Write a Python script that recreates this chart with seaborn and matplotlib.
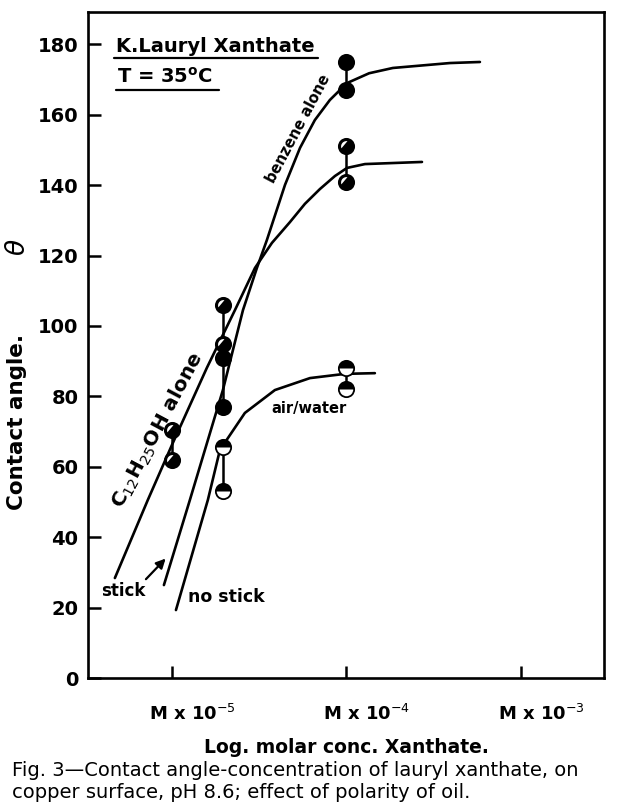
import matplotlib
matplotlib.use("Agg")
import numpy as np
import matplotlib.pyplot as plt
import seaborn as sns
import pandas as pd
from matplotlib.path import Path
from matplotlib.transforms import ScaledTranslation
from matplotlib.lines import Line2D

# ---------------- data (x = log10 molar conc., y = contact angle, deg) -------------
x_tick_pos = [-5, -4, -3]
x_tick_labels = [r"M x 10$^{-5}$", r"M x 10$^{-4}$", r"M x 10$^{-3}$"]
y_tick_pos = [0, 20, 40, 60, 80, 100, 120, 140, 160, 180]

# hand-drawn curves
benzene_x = [-5.046, -4.897, -4.708, -4.593, -4.513, -4.456, -4.352, -4.266, -4.181, -4.095, -3.997, -3.870, -3.734, -3.407, -3.235]
benzene_y = [26.4, 50.6, 81.8, 104.5, 116.5, 124.4, 140.1, 150.6, 158.5, 164.2, 169.0, 171.8, 173.3, 174.7, 175.0]

c12_x = [-5.327, -5.138, -5.000, -4.800, -4.639, -4.524, -4.427, -4.324, -4.238, -4.152, -4.066, -3.997, -3.894, -3.567]
c12_y = [28.4, 50.6, 66.2, 88.1, 104.5, 116.5, 123.6, 129.5, 134.7, 138.9, 142.6, 144.9, 146.0, 146.6]

air_x = [-4.977, -4.794, -4.725, -4.582, -4.410, -4.209, -4.009, -3.837]
air_y = [19.3, 50.6, 64.8, 75.3, 81.8, 85.2, 86.4, 86.6]

# measured points
benzene_pts_x = [-4.71, -4.71, -4.0, -4.0]
benzene_pts_y = [91, 77, 175, 167]
c12_pts_x = [-5.0, -5.0, -4.71, -4.71, -4.0, -4.0]
c12_pts_y = [70.5, 62, 106, 95, 151, 141]
air_pts_x = [-4.71, -4.71, -4.0, -4.0]
air_pts_y = [65.5, 53, 88, 82]

# vertical connectors between duplicate readings
pair_x = [-5.0, -4.71, -4.71, -4.71, -4.0, -4.0, -4.0]
pair_top = [70.5, 106, 91, 65.5, 175, 151, 88]
pair_bot = [62, 95, 77, 53, 167, 141, 82]

# "stick" arrow
stick_arrow_from = (-5.16, 27.5)
stick_arrow_to = (-5.025, 34.5)

# ---------------- figure -----------------
sns.set_style("white")
plt.rcParams["font.family"] = ["DejaVu Sans"]
plt.rcParams["mathtext.fontset"] = "dejavusans"
for k in ["text.color", "axes.labelcolor", "xtick.color", "ytick.color"]:
    plt.rcParams[k] = "black"

fig = plt.figure(figsize=(6.17, 8.11), dpi=100)
ax = fig.add_axes([88 / 617, 1 - 678 / 811, (604 - 88) / 617, (678 - 12) / 811])

lw = 1.9
for xs, ys in [(benzene_x, benzene_y), (c12_x, c12_y), (air_x, air_y)]:
    sns.lineplot(x=xs, y=ys, ax=ax, color="black", lw=lw, estimator=None, sort=False)

conn = pd.DataFrame({
    "x": pair_x + pair_x,
    "y": pair_top + pair_bot,
    "pair": list(range(len(pair_x))) * 2,
})
sns.lineplot(data=conn, x="x", y="y", units="pair", estimator=None, sort=False,
             color="black", lw=1.8, ax=ax)

ms = 11
mk_common = dict(linestyle="", markersize=ms, markeredgecolor="black", mew=1.3,
                 estimator=None, sort=False, ax=ax)


def arc_marker(a0, a1):
    ang = np.deg2rad(np.linspace(a0, a1, 40))
    v = np.column_stack([np.cos(ang), np.sin(ang)])
    return Path(np.vstack([v, v[:1]]))


# full black (benzene)
sns.lineplot(x=benzene_pts_x, y=benzene_pts_y, marker="o", markerfacecolor="black",
             color="black", **mk_common)

# mostly black with a white segment at the upper-left (C12H25OH)
sns.lineplot(x=c12_pts_x, y=c12_pts_y, marker="o", markerfacecolor="black",
             color="black", **mk_common)
sns.lineplot(x=c12_pts_x, y=c12_pts_y, marker=arc_marker(80, 200), markerfacecolor="white",
             linestyle="", markersize=ms - 3.2, mew=0, markeredgecolor="white",
             estimator=None, sort=False, ax=ax, color="white")

# upper half black, lower half white (air/water)
sns.lineplot(x=air_pts_x, y=air_pts_y, marker="o", markerfacecolor="white",
             color="black", **mk_common)
sns.lineplot(x=air_pts_x, y=air_pts_y, marker=arc_marker(0, 180), markerfacecolor="black",
             linestyle="", markersize=ms, mew=0, markeredgecolor="black",
             estimator=None, sort=False, ax=ax, color="black")

ax.set_xlim(-5.481, -2.524)
ax.set_ylim(0, 189.2)
ax.set_xticks(x_tick_pos)
ax.set_xticklabels(x_tick_labels, fontsize=13, fontweight="bold")
ax.set_yticks(y_tick_pos)
ax.set_yticklabels([str(v) for v in y_tick_pos], fontsize=14, fontweight="bold")
ax.tick_params(axis="both", direction="in", length=9, width=1.8, color="black",
               bottom=True, left=True, top=False, right=False)
ax.tick_params(axis="x", pad=19)
ax.tick_params(axis="y", pad=7)
shift = ScaledTranslation(0.2, 0, fig.dpi_scale_trans)
for lab in ax.get_xticklabels():
    lab.set_transform(lab.get_transform() + shift)
for sp in ax.spines.values():
    sp.set_visible(True)
    sp.set_linewidth(1.9)
    sp.set_color("black")
ax.set_xlabel("Log. molar conc. Xanthate.", fontsize=13.5, fontweight="bold", labelpad=10)
ax.set_ylabel("")

fig.text(17 / 617, 1 - 422 / 811, "Contact angle.", rotation=90,
         ha="center", va="center", fontsize=15.5, fontweight="bold")
fig.text(18 / 617, 1 - 247 / 811, r"$\theta$", rotation=90,
         ha="center", va="center", fontsize=19)

# annotations
ax.text(-4.278, 156, "benzene alone", rotation=62, ha="center", va="center",
        fontsize=10.5, fontweight="bold")
ax.text(-5.08, 70.5, r"C$_{12}$H$_{25}$OH alone", rotation=62, ha="center", va="center",
        fontsize=14.5, fontweight="bold")
ax.text(-4.215, 76.7, "air/water", ha="center", va="center", fontsize=10.5, fontweight="bold")
ax.text(-5.281, 24.7, "stick", ha="center", va="center", fontsize=12, fontweight="bold")
ax.text(-4.690, 23.0, "no stick", ha="center", va="center", fontsize=12.5, fontweight="bold")
ax.annotate("", xy=stick_arrow_to, xytext=stick_arrow_from,
            arrowprops=dict(arrowstyle="-|>", color="black", lw=1.6, mutation_scale=14))

# title text
fig.text(116 / 617, 1 - 46 / 811, "K.Lauryl Xanthate", ha="left", va="center",
         fontsize=14, fontweight="bold")
fig.add_artist(Line2D([114 / 617, 318 / 617], [1 - 58 / 811, 1 - 58 / 811], color="black", lw=1.6))
fig.text(117 / 617, 1 - 77 / 811, r"T = 35$^{\mathbf{o}}$C", ha="left", va="center",
         fontsize=14, fontweight="bold")
fig.add_artist(Line2D([116 / 617, 219 / 617], [1 - 90 / 811, 1 - 90 / 811], color="black", lw=1.6))

# caption
fig.text(12 / 617, 1 - 770 / 811,
         "Fig. 3\u2014Contact angle-concentration of lauryl xanthate, on",
         ha="left", va="center", fontsize=14)
fig.text(12 / 617, 1 - 793 / 811,
         "copper surface, pH 8.6; effect of polarity of oil.",
         ha="left", va="center", fontsize=14)

fig.savefig("out.png", dpi=100)
